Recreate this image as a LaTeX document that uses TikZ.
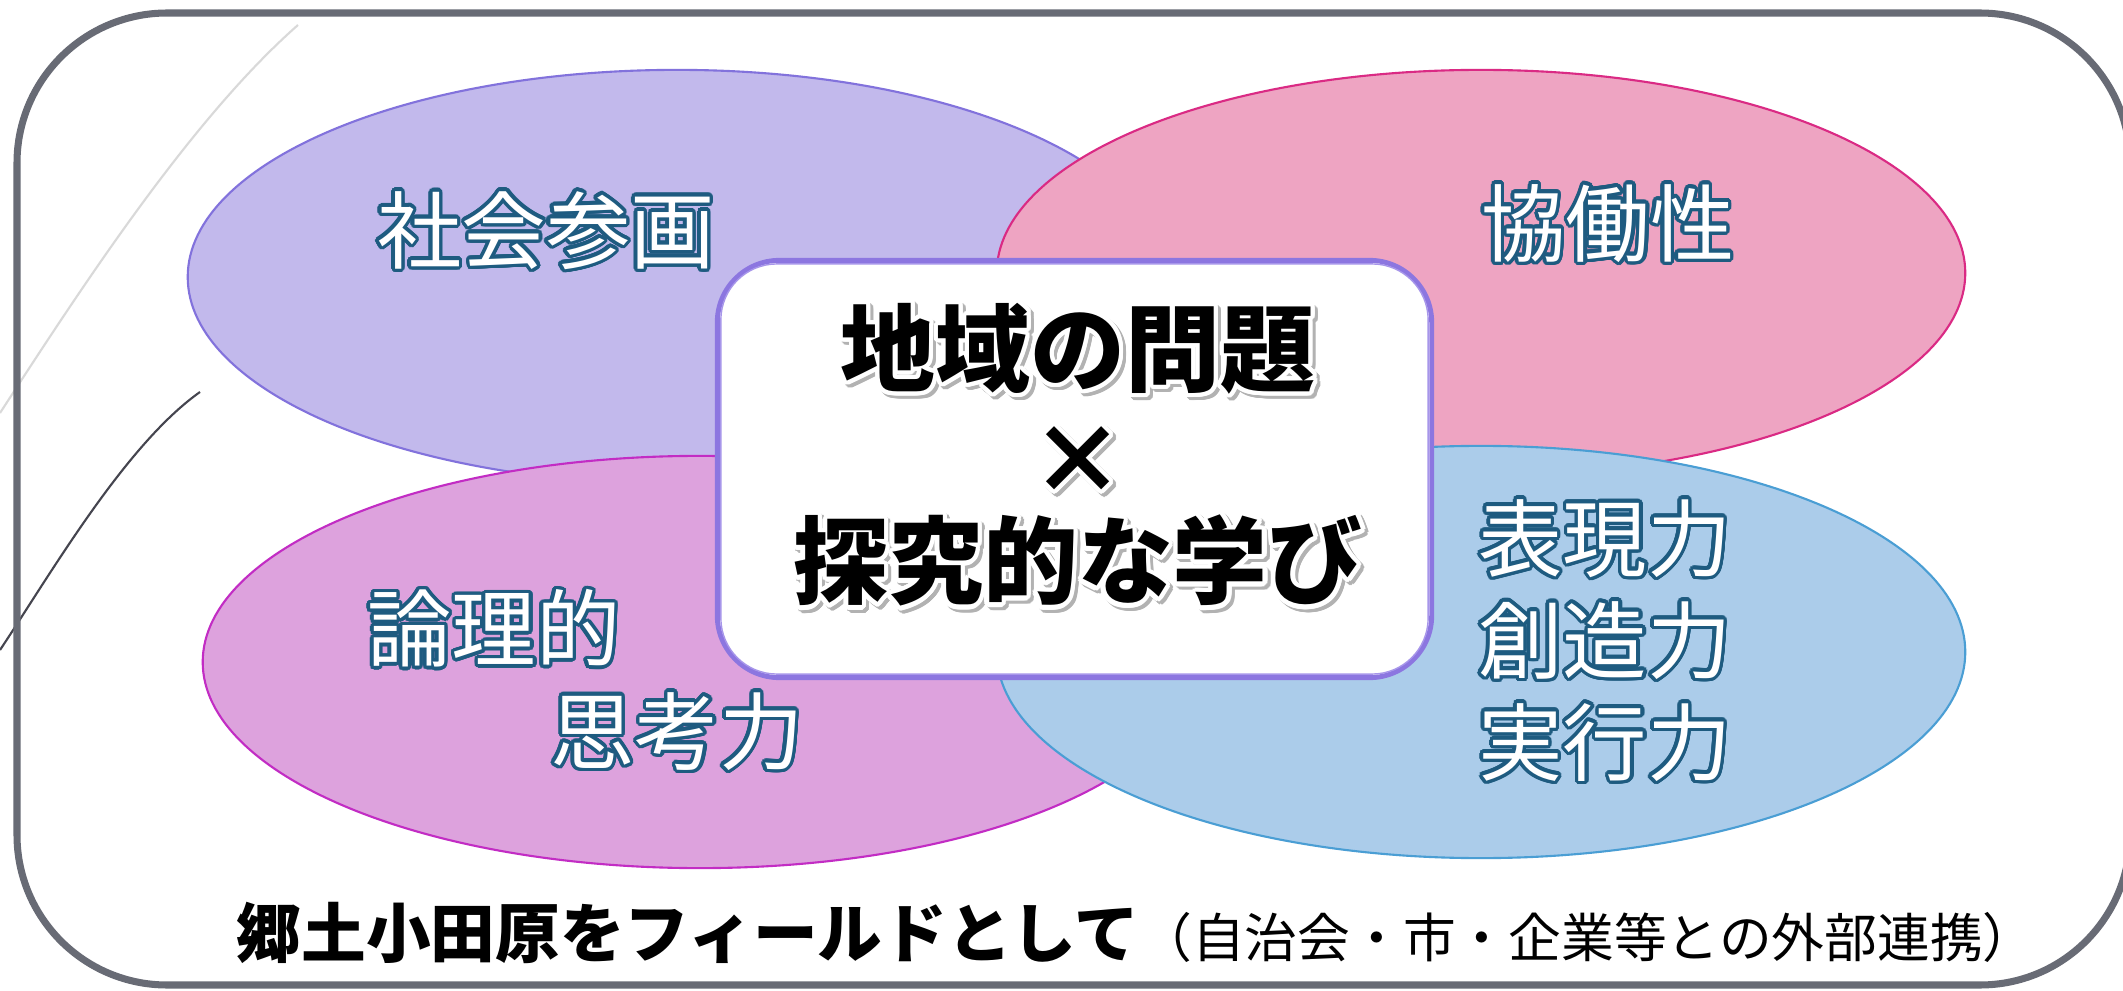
\documentclass[tikz,border=0pt]{standalone}
\usepackage{fontspec}
\setmainfont{Noto Sans CJK JP}
\usepackage[copies]{contour}
\contournumber{24}
\usetikzlibrary{shapes.geometric}
\definecolor{rimgray}{HTML}{686B75}
\definecolor{purFill}{HTML}{C2B9EC}
\definecolor{purEdge}{HTML}{8272DC}
\definecolor{pinkFill}{HTML}{EEA4C2}
\definecolor{pinkEdge}{HTML}{DA2A84}
\definecolor{magFill}{HTML}{DDA2DD}
\definecolor{magEdge}{HTML}{C22CC4}
\definecolor{bluFill}{HTML}{ABCCEA}
\definecolor{bluEdge}{HTML}{4A9ED4}
\definecolor{boxEdge}{HTML}{8C76E0}
\definecolor{boxInner}{HTML}{A796EA}
\definecolor{labEdge}{HTML}{1E5B80}
\definecolor{lightLine}{HTML}{D9D9D9}
\definecolor{darkLine}{HTML}{45454F}
\tikzset{
  blob/.style={ellipse, inner sep=0pt, line width=0.6pt},
  lab/.style={text=white, font=\fontsize{24}{30}\selectfont, inner sep=0pt},
  ctext/.style={text=black, font=\bfseries\fontsize{27}{32}\selectfont, inner sep=0pt},
  cshadow/.style={text=black!30, font=\bfseries\fontsize{27}{32}\selectfont, inner sep=0pt},
}
\newcommand{\lbl}[1]{\contourlength{1pt}\contour{labEdge}{#1}}
\newcommand{\ctr}[1]{\contourlength{1.2pt}\contour{white}{#1}}
\newcommand{\ctrs}[1]{\contourlength{1.2pt}\contour{black!30}{#1}}
\begin{document}
\begin{tikzpicture}[x=0.01cm,y=-0.01cm]
\useasboundingbox (0,0) rectangle (2123,991);
\fill[white] (0,0) rectangle (2123,991);
% decorative lines
\coordinate (l1a) at (298,25); \coordinate (l1b) at (0,413);
\draw[lightLine, line width=0.6pt] (l1a) .. controls (190,120) and (80,290) .. (l1b);
\coordinate (l2a) at (200,392); \coordinate (l2b) at (0,650);
\draw[darkLine, line width=0.6pt] (l2a) .. controls (125,445) and (50,575) .. (l2b);
% frame
\draw[rimgray, line width=2pt, rounded corners=1.5cm] (17,13) rectangle (2130,985);
% ellipses
\node[blob, fill=purFill, draw=purEdge, minimum width=9.78cm, minimum height=4.14cm] (e1) at (677,277) {};
\node[blob, fill=pinkFill, draw=pinkEdge, minimum width=9.68cm, minimum height=4.06cm] (e2) at (1481,273) {};
\node[blob, fill=magFill, draw=magEdge, minimum width=9.94cm, minimum height=4.12cm] (e3) at (700,662) {};
\node[blob, fill=bluFill, draw=bluEdge, minimum width=9.68cm, minimum height=4.12cm] (e4) at (1481,652) {};
% central box
\node[draw=boxEdge, line width=1.4pt, fill=white, rounded corners=0.62cm, minimum width=7.14cm, minimum height=4.17cm, inner sep=0pt] (box) at (1074.5,469) {};
\draw[boxInner, line width=0.4pt, rounded corners=0.56cm] ([shift={(6,6)}]box.north west) rectangle ([shift={(-6,-6)}]box.south east);
% central text
\node[cshadow] (c1s) at (1081,354) {\ctrs{地域の問題}};
\node[cshadow] (c2s) at (1081,466) {\ctrs{×}};
\node[cshadow] (c3s) at (1081,566) {\ctrs{探究的な学び}};
\node[ctext] (c1) at (1078,351) {\ctr{地域の問題}};
\node[ctext] (c2) at (1078,463) {\ctr{×}};
\node[ctext] (c3) at (1078,563) {\ctr{探究的な学び}};
% labels
\node[lab] (t1) at (546,232) {\lbl{社会参画}};
\node[lab] (t2) at (1608,225) {\lbl{協働性}};
\node[lab] (t3) at (494,630) {\lbl{論理的}};
\node[lab] (t4) at (677,733) {\lbl{思考力}};
\node[lab] (t5) at (1605,540) {\lbl{表現力}};
\node[lab] (t6) at (1605,642) {\lbl{創造力}};
\node[lab] (t7) at (1605,744) {\lbl{実行力}};
% footer
\node[anchor=base west, inner sep=0pt] (foot) at (236,957) {{\bfseries\fontsize{18.4}{20}\selectfont 郷土小田原をフィールドとして}{\fontsize{15}{20}\selectfont （自治会・市・企業等との外部連携）}};
\end{tikzpicture}
\end{document}
